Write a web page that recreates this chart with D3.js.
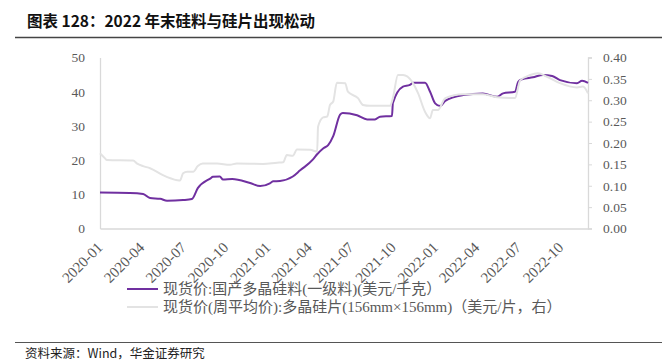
<!DOCTYPE html>
<html><head><meta charset="utf-8">
<script src="https://cdn.jsdelivr.net/npm/d3@7"></script>
<style>
body{margin:0;background:#fff;}
svg{display:block;}
</style></head>
<body><svg id="c" width="672" height="361"></svg>
<script>
const titleText = "图表 128：2022 年末硅料与硅片出现松动";
const sourceText = "资料来源：Wind，华金证券研究";
const seriesNames = ["现货价:国产多晶硅料(一级料)(美元/千克）", "现货价(周平均价):多晶硅片(156mm×156mm)（美元/片，右）"];
const xTickLabels = ["2020-01","2020-04","2020-07","2020-10","2021-01","2021-04","2021-07","2021-10","2022-01","2022-04","2022-07","2022-10"];
const leftTicks = [0,10,20,30,40,50];
const rightTicks = [0,0.05,0.10,0.15,0.20,0.25,0.30,0.35,0.40];

const polyDates = ["2020-01-01","2020-03-06","2020-04-04","2020-04-19","2020-05-11","2020-05-26","2020-06-30","2020-07-19","2020-08-01","2020-08-28","2020-09-03","2020-09-18","2020-09-25","2020-10-15","2020-11-23","2020-12-15","2021-01-05","2021-01-12","2021-01-27","2021-02-24","2021-03-12","2021-04-09","2021-04-18","2021-05-01","2021-05-12","2021-05-23","2021-06-07","2021-06-13","2021-07-14","2021-08-05","2021-08-22","2021-09-02","2021-09-28","2021-09-30","2021-10-22","2021-11-06","2021-11-13","2021-12-09","2021-12-20","2021-12-31","2022-01-11","2022-01-22","2022-03-02","2022-04-14","2022-05-15","2022-05-28","2022-06-23","2022-06-30","2022-07-08","2022-08-01","2022-08-23","2022-09-12","2022-09-29","2022-11-05","2022-11-16","2022-11-29"];
const polyValues = [10.5,10.4,10.1,8.9,8.7,8.1,8.3,8.6,11.8,14.6,15.1,15.2,14.3,14.5,13.3,12.4,13.2,13.8,13.9,15.2,17.0,20.2,21.7,23.4,24.4,27.0,33.3,33.8,33.1,31.9,31.9,32.7,32.9,36.7,41.5,42.0,42.6,42.6,40.0,36.6,35.8,37.3,39.0,39.5,38.5,39.5,40.0,42.9,43.6,44.2,44.9,44.6,43.4,42.5,43.2,42.6];

const waferDates = ["2020-01-01","2020-01-12","2020-01-16","2020-03-13","2020-03-22","2020-04-04","2020-04-19","2020-05-17","2020-06-17","2020-06-23","2020-06-30","2020-07-09","2020-07-22","2020-08-01","2020-08-12","2020-09-12","2020-10-10","2020-10-25","2020-12-21","2021-01-21","2021-02-03","2021-02-11","2021-02-24","2021-03-05","2021-04-03","2021-04-18","2021-04-20","2021-05-01","2021-05-10","2021-05-16","2021-05-23","2021-05-31","2021-06-18","2021-06-24","2021-07-16","2021-07-27","2021-08-11","2021-09-24","2021-09-30","2021-10-11","2021-10-22","2021-11-11","2021-11-24","2021-12-09","2021-12-20","2021-12-26","2022-01-06","2022-01-22","2022-03-02","2022-04-14","2022-05-15","2022-06-23","2022-07-04","2022-07-26","2022-08-12","2022-09-01","2022-09-29","2022-11-05","2022-11-18","2022-11-29"];
const waferValues = [0.176,0.164,0.160,0.159,0.152,0.146,0.141,0.125,0.113,0.112,0.129,0.133,0.133,0.146,0.152,0.152,0.149,0.152,0.151,0.154,0.155,0.172,0.170,0.185,0.184,0.180,0.238,0.260,0.262,0.289,0.297,0.341,0.340,0.320,0.305,0.289,0.287,0.287,0.305,0.359,0.359,0.343,0.316,0.273,0.258,0.277,0.277,0.305,0.314,0.314,0.307,0.305,0.346,0.359,0.363,0.355,0.340,0.330,0.332,0.316];

(function(){
const parse = d3.timeParse("%Y-%m-%d");
const svg = d3.select("#c");
const pL = 100, pR = 588, pT = 57.5, pB = 228.5;
const fontSerif = "'Liberation Serif','Times New Roman','Noto Sans CJK SC',serif";
const fontCJK = "'Liberation Serif','Noto Sans CJK SC',serif";

const x = d3.scaleTime().domain([parse("2020-01-01"), parse("2022-11-29")]).range([pL, pR]);
const yL = d3.scaleLinear().domain([0,50]).range([pB, pT]);
const yR = d3.scaleLinear().domain([0,0.40]).range([pB, pT]);

// title
svg.append("text").attr("x",27).attr("y",27).attr("font-family","'Noto Sans CJK SC',sans-serif")
  .attr("font-weight","bold").attr("font-size",15.5).attr("fill","#111").text(titleText);
svg.append("line").attr("x1",15).attr("x2",662).attr("y1",37.5).attr("y2",37.5).attr("stroke","#444").attr("stroke-width",1.5);

// axes
const gL = svg.append("g").attr("transform",`translate(${pL},0)`)
  .call(d3.axisLeft(yL).tickValues(leftTicks).tickSize(0).tickPadding(15).tickFormat(d3.format("d")));
const gR = svg.append("g").attr("transform",`translate(${pR},0)`)
  .call(d3.axisRight(yR).tickValues(rightTicks).tickSize(4).tickPadding(11).tickFormat(d3.format(".2f")));
const xTickDates = xTickLabels.map(s => parse(s + "-01"));
const gX = svg.append("g").attr("transform",`translate(0,${pB})`)
  .call(d3.axisBottom(x).tickValues(xTickDates).tickSize(0).tickFormat((d,i)=>xTickLabels[i]));
[gL,gR,gX].forEach(g=>{
  g.selectAll(".domain").attr("stroke","#d9d9d9").attr("stroke-width",1.3);
  g.selectAll(".tick line").attr("stroke","#d9d9d9");
  g.selectAll("text").attr("font-family",fontSerif).attr("font-size",13.5).attr("fill","#595959");
});
gX.selectAll("text").attr("text-anchor","end").attr("dy",0).attr("y",0)
  .attr("transform","translate(3,20) rotate(-45)").attr("font-size",15);

// lines
const lineP = d3.line().x((d,i)=>x(parse(polyDates[i]))).y(d=>yL(d)).curve(d3.curveMonotoneX);
const lineW = d3.line().x((d,i)=>x(parse(waferDates[i]))).y(d=>yR(d)).curve(d3.curveMonotoneX);
svg.append("path").datum(polyValues).attr("d",lineP).attr("fill","none").attr("stroke","#7030a0").attr("stroke-width",2);
svg.append("path").datum(waferValues).attr("d",lineW).attr("fill","none").attr("stroke","#e3e3e3").attr("stroke-width",2);

// legend
const lg = svg.append("g");
const colors = ["#7030a0","#e3e3e3"];
seriesNames.forEach((n,i)=>{
  const yy = 289 + i*18;
  lg.append("line").attr("x1",127).attr("x2",158).attr("y1",yy).attr("y2",yy).attr("stroke",colors[i]).attr("stroke-width",2);
  lg.append("text").attr("x",163).attr("y",yy+5).attr("font-family",fontCJK).attr("font-size",15).attr("fill","#595959").text(n);
});

// bottom rule and source
svg.append("line").attr("x1",15).attr("x2",662).attr("y1",342.5).attr("y2",342.5).attr("stroke","#555").attr("stroke-width",1.2);
svg.append("text").attr("x",25).attr("y",358).attr("font-family","'Noto Sans CJK SC',sans-serif").attr("font-size",12.5).attr("fill","#222").text(sourceText);
})();
</script></body></html>
